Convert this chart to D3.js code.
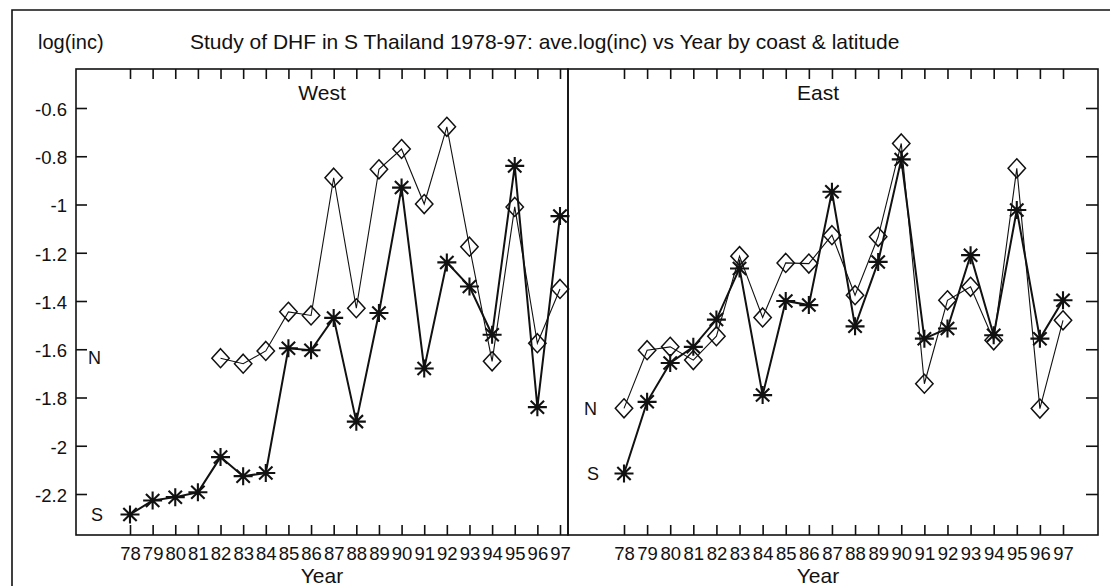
<!DOCTYPE html>
<html>
<head>
<meta charset="utf-8">
<script src="https://cdn.jsdelivr.net/npm/d3@7"></script>
<style>
  html, body { margin: 0; padding: 0; background: #fff; }
  svg { display: block; }
  text { font-family: "Liberation Sans", Arial, Helvetica, sans-serif; fill: #111; }
</style>
</head>
<body>
<svg id="chart" width="1110" height="586"></svg>
<script>
// ---- data ----
const years = [78,79,80,81,82,83,84,85,86,87,88,89,90,91,92,93,94,95,96,97];
const yTicks = [-0.6,-0.8,-1,-1.2,-1.4,-1.6,-1.8,-2,-2.2];
const yTickLabels = ["-0.6","-0.8","-1","-1.2","-1.4","-1.6","-1.8","-2","-2.2"];
const panelNames = ["West","East"];
const westN = [null,null,null,null,-1.637,-1.66,-1.607,-1.445,-1.46,-0.889,-1.43,-0.854,-0.77,-0.998,-0.678,-1.175,-1.65,-1.01,-1.575,-1.35];
const westS = [-2.285,-2.227,-2.213,-2.193,-2.047,-2.126,-2.113,-1.596,-1.604,-1.47,-1.90,-1.45,-0.93,-1.68,-1.24,-1.34,-1.54,-0.84,-1.84,-1.048];
const eastN = [-1.845,-1.604,-1.59,-1.645,-1.546,-1.214,-1.468,-1.242,-1.245,-1.127,-1.376,-1.134,-0.747,-1.743,-1.397,-1.341,-1.563,-0.85,-1.846,-1.48];
const eastS = [-2.115,-1.818,-1.657,-1.59,-1.477,-1.265,-1.79,-1.40,-1.417,-0.947,-1.505,-1.238,-0.813,-1.556,-1.514,-1.21,-1.542,-1.023,-1.556,-1.397];
const seriesLabels = ["N","S"];

// ---- layout ----
const svg = d3.select("#chart");
const plotTop = 69, plotBottom = 535;
const panels = [
  { name: panelNames[0], x0: 76, x1: 568, r0: 130, r1: 560, N: westN, S: westS, labelX: 88, titleX: 322, yAxis: "left" },
  { name: panelNames[1], x0: 568, x1: 1098, r0: 624, r1: 1063, N: eastN, S: eastS, labelX: 584, titleX: 818, yAxis: "right" }
];
const y = d3.scaleLinear().domain([-0.6, -2.2]).range([108, 494]);

// outer frame (left and top edges)
svg.append("path")
  .attr("d", "M12,590 L12,10 L1112,10")
  .attr("fill", "none").attr("stroke", "#111").attr("stroke-width", 1.6);

// main title
svg.append("text").attr("x", 38).attr("y", 49)
  .attr("font-size", 20).text("log(inc)");
svg.append("text").attr("x", 190).attr("y", 49)
  .attr("font-size", 21).text("Study of DHF in S Thailand 1978-97: ave.log(inc) vs Year by coast & latitude");

const diamond = "M0,-9.5L8.7,0L0,9.5L-8.7,0Z";
const star = "M-9.5,0H9.5M0,-9V9M-6.7,-6.5L6.7,6.5M-6.7,6.5L6.7,-6.5";

panels.forEach(p => {
  const x = d3.scaleLinear().domain([years[0], years[years.length-1]]).range([p.r0, p.r1]);
  const g = svg.append("g");

  // bottom axis: inward ticks
  const xb = d3.axisBottom(x).tickValues(years).tickFormat(d => String(d)).tickSizeInner(-10).tickSizeOuter(0);
  const gb = g.append("g").attr("transform", `translate(0,${plotBottom})`).call(xb);
  gb.select(".domain").remove();
  gb.selectAll("line").attr("stroke", "#111").attr("stroke-width", 1.6);
  gb.selectAll("text").attr("font-size", 18.5).attr("dy", 0).attr("y", 25)
    .attr("font-family", "Liberation Sans, Arial, sans-serif").attr("fill", "#111");

  // top axis: inward ticks, no labels
  const xt = d3.axisTop(x).tickValues(years).tickFormat("").tickSizeInner(-10).tickSizeOuter(0);
  const gt = g.append("g").attr("transform", `translate(0,${plotTop})`).call(xt);
  gt.select(".domain").remove();
  gt.selectAll("line").attr("stroke", "#111").attr("stroke-width", 1.6);

  // y axis ticks (inward)
  if (p.yAxis === "left") {
    const ya = d3.axisLeft(y).tickValues(yTicks).tickFormat((d,i) => yTickLabels[i]).tickSizeInner(-11).tickSizeOuter(0);
    const gy = g.append("g").attr("transform", `translate(${p.x0},0)`).call(ya);
    gy.select(".domain").remove();
    gy.selectAll("line").attr("stroke", "#111").attr("stroke-width", 1.6);
    gy.selectAll("text").attr("font-size", 18.5).attr("x", -9).attr("dy", "0.4em")
      .attr("font-family", "Liberation Sans, Arial, sans-serif").attr("fill", "#111");
  } else {
    const ya = d3.axisRight(y).tickValues(yTicks).tickFormat("").tickSizeInner(-12).tickSizeOuter(0);
    const gy = g.append("g").attr("transform", `translate(${p.x1},0)`).call(ya);
    gy.select(".domain").remove();
    gy.selectAll("line").attr("stroke", "#111").attr("stroke-width", 1.6);
  }

  // panel frame
  g.append("rect").attr("x", p.x0).attr("y", plotTop).attr("width", p.x1 - p.x0).attr("height", plotBottom - plotTop)
    .attr("fill", "none").attr("stroke", "#111").attr("stroke-width", 1.6);

  // panel title
  g.append("text").attr("x", p.titleX).attr("y", 100).attr("text-anchor", "middle")
    .attr("font-size", 21).text(p.name);

  // x-axis title
  g.append("text").attr("x", p.titleX).attr("y", 583).attr("text-anchor", "middle")
    .attr("font-size", 21).text("Year");

  const line = d3.line().defined(d => d != null).x((d,i) => x(years[i])).y(d => y(d));

  // N series: thin line + diamonds
  g.append("path").attr("d", line(p.N)).attr("fill", "none").attr("stroke", "#111").attr("stroke-width", 1.1);
  g.selectAll(".dia").data(p.N.map((v,i) => ({v, yr: years[i]})).filter(d => d.v != null)).enter()
    .append("path").attr("d", diamond)
    .attr("transform", d => `translate(${x(d.yr)},${y(d.v)})`)
    .attr("fill", "none").attr("stroke", "#111").attr("stroke-width", 1.5);

  // S series: thick line + stars
  g.append("path").attr("d", line(p.S)).attr("fill", "none").attr("stroke", "#111").attr("stroke-width", 2);
  g.selectAll(".star").data(p.S.map((v,i) => ({v, yr: years[i]}))).enter()
    .append("path").attr("d", star)
    .attr("transform", d => `translate(${x(d.yr)},${y(d.v)})`)
    .attr("fill", "none").attr("stroke", "#111").attr("stroke-width", 2.1);

  // series labels at first value of each series
  const firstN = p.N.find(v => v != null);
  const firstS = p.S.find(v => v != null);
  g.append("text").attr("x", p.labelX).attr("y", y(firstN)).attr("dy", "0.35em")
    .attr("font-size", 18).text(seriesLabels[0]);
  g.append("text").attr("x", p.labelX + 3).attr("y", y(firstS)).attr("dy", "0.35em")
    .attr("font-size", 18).text(seriesLabels[1]);
});
</script>
</body>
</html>
